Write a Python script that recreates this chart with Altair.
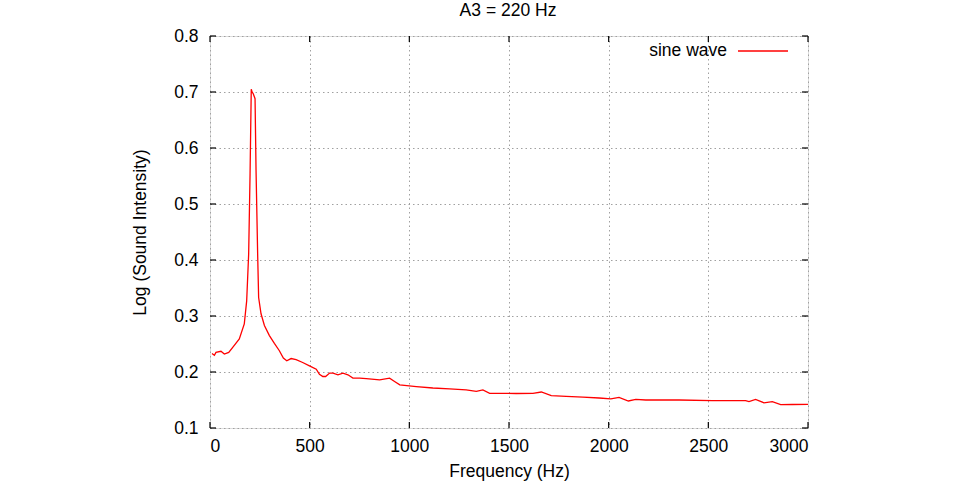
import altair as alt
import pandas as pd

freq = [10, 22, 30, 55, 72, 94, 114, 147, 172, 184, 194, 201, 207, 211, 217, 226, 231, 239,
        244, 256, 273, 298, 323, 348, 368, 385, 407, 432, 465, 499, 533, 549, 566, 580, 600,
        617, 642, 667, 692, 717, 751, 784, 851, 901, 926, 952, 1035, 1118, 1202, 1285, 1336,
        1369, 1403, 1453, 1536, 1620, 1662, 1712, 1787, 1871, 1952, 2011, 2052, 2099, 2136,
        2186, 2353, 2520, 2687, 2704, 2737, 2779, 2821, 2863, 2921, 3000]
intensity = [0.233, 0.230, 0.235, 0.237, 0.232, 0.235, 0.244, 0.259, 0.286, 0.327, 0.411, 0.554,
             0.705, 0.700, 0.697, 0.688, 0.560, 0.411, 0.333, 0.304, 0.283, 0.265, 0.251, 0.238,
             0.225, 0.220, 0.224, 0.222, 0.217, 0.211, 0.205, 0.196, 0.192, 0.192, 0.198, 0.198,
             0.195, 0.198, 0.195, 0.189, 0.189, 0.188, 0.186, 0.189, 0.183, 0.177, 0.174, 0.1714,
             0.170, 0.168, 0.1655, 0.168, 0.162, 0.162, 0.1616, 0.162, 0.1643, 0.1577, 0.1565,
             0.1553, 0.1536, 0.152, 0.1547, 0.1482, 0.151, 0.150, 0.150, 0.149, 0.149, 0.147,
             0.151, 0.145, 0.147, 0.1416, 0.142, 0.1422]
x_ticks = [0, 500, 1000, 1500, 2000, 2500, 3000]
y_ticks = [0.1, 0.2, 0.3, 0.4, 0.5, 0.6, 0.7, 0.8]
series_name = "sine wave"
title_text = "A3 = 220 Hz"

W, H = 598, 392
FONT = "Liberation Sans"
FS = 17.5
TL = 6

df = pd.DataFrame({"freq": freq, "val": intensity})
xt = pd.DataFrame({"t": x_ticks})
yt = pd.DataFrame({"t": y_ticks})

xs = alt.Scale(domain=[0, 3000], nice=False, zero=False)
ys = alt.Scale(domain=[0.1, 0.8], nice=False, zero=False)

xaxis = alt.Axis(values=x_ticks, format="d", grid=True, gridDash=[1.5, 3], gridColor="#a0a0a0",
                 gridWidth=1, ticks=False, domain=False, labelPadding=9,
                 labelFont=FONT, labelFontSize=FS, labelColor="#000",
                 title="Frequency (Hz)", titleFont=FONT, titleFontSize=FS, titleFontWeight="normal",
                 titleColor="#000", titleX=W / 2, titleY=43, titleBaseline="middle", titleAlign="center")
yaxis = alt.Axis(values=y_ticks, format=".1f", grid=True, gridDash=[1.5, 3], gridColor="#a0a0a0",
                 gridWidth=1, ticks=False, domain=False, labelPadding=12,
                 labelFont=FONT, labelFontSize=FS, labelColor="#000",
                 title="Log (Sound Intensity)", titleFont=FONT, titleFontSize=FS, titleFontWeight="normal",
                 titleColor="#000", titleX=-70, titleY=H / 2, titleAngle=270,
                 titleBaseline="middle", titleAlign="center")

line = alt.Chart(df).mark_line(color="#ff0000", strokeWidth=1.3, clip=True).encode(
    x=alt.X("freq:Q", scale=xs, axis=xaxis),
    y=alt.Y("val:Q", scale=ys, axis=yaxis),
)

tick_style = dict(color="#000", strokeWidth=1.2)
bt = alt.Chart(xt).mark_rule(**tick_style).encode(
    x=alt.X("t:Q", scale=xs), y=alt.value(H), y2=alt.value(H - TL))
tt = alt.Chart(xt).mark_rule(**tick_style).encode(
    x=alt.X("t:Q", scale=xs), y=alt.value(0), y2=alt.value(TL))
lt = alt.Chart(yt).mark_rule(**tick_style).encode(
    y=alt.Y("t:Q", scale=ys), x=alt.value(0), x2=alt.value(TL))
rt = alt.Chart(yt).mark_rule(**tick_style).encode(
    y=alt.Y("t:Q", scale=ys), x=alt.value(W), x2=alt.value(W - TL))

leg_df = pd.DataFrame({"name": [series_name]})
leg_text = alt.Chart(leg_df).mark_text(align="right", baseline="middle", font=FONT,
                                       fontSize=FS, color="#000").encode(
    text="name:N", x=alt.value(517), y=alt.value(15))
leg_line = alt.Chart(leg_df).mark_rule(color="#ff0000", strokeWidth=1.3).encode(
    x=alt.value(528), x2=alt.value(578), y=alt.value(15))

title_df = pd.DataFrame({"name": [title_text]})
title_mark = alt.Chart(title_df).mark_text(align="center", baseline="alphabetic", font=FONT,
                                           fontSize=FS, color="#000").encode(
    text="name:N", x=alt.value(W / 2 - 1), y=alt.value(-20))

chart = alt.layer(line, bt, tt, lt, rt, leg_text, leg_line, title_mark).properties(
    width=W, height=H,
    autosize=alt.AutoSizeParams(type="none"),
    padding={"left": 210, "top": 36, "right": 960 - 210 - W, "bottom": 483 - 36 - H},
).configure_view(stroke="#000", strokeWidth=1.5).configure(background="#ffffff")

chart.save("out.html", embed_options={"renderer": "svg", "actions": False})
